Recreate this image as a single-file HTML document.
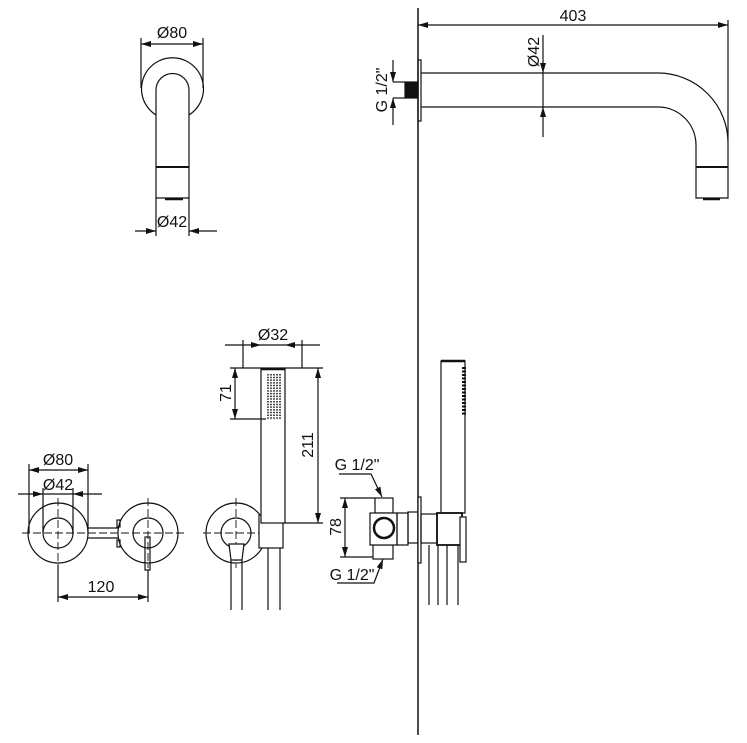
<!DOCTYPE html>
<html><head><style>
html,body{margin:0;padding:0;background:#fff;}
svg{display:block}
text{font-family:"Liberation Sans Narrow","Liberation Sans",sans-serif;font-size:16px;fill:#111;}
</style></head><body>
<svg width="747" height="743" viewBox="0 0 747 743" xmlns="http://www.w3.org/2000/svg">
<defs>
<marker id="a" markerWidth="10" markerHeight="6" refX="10" refY="3" orient="auto" markerUnits="userSpaceOnUse"><path d="M0,0 L10,3 L0,6 z" fill="#111"/></marker>
</defs>
<g stroke="#111" stroke-width="1.2" fill="none">
<line x1="141" y1="38" x2="141" y2="88"/><line x1="203" y1="38" x2="203" y2="88"/>
<line x1="172" y1="44" x2="141" y2="44" marker-end="url(#a)"/><line x1="172" y1="44" x2="203" y2="44" marker-end="url(#a)"/>
<path d="M156,115 A31,31 0 1 1 189,115"/>
<path d="M156,198 L156,90 A16.5,16.5 0 0 1 189,90 L189,198 Z"/>
<line x1="156" y1="167" x2="189" y2="167" stroke-width="2"/>
<line x1="165" y1="199" x2="183" y2="199" stroke-width="2.5"/>
<line x1="156" y1="198" x2="156" y2="236"/><line x1="189" y1="198" x2="189" y2="236"/>
<line x1="135" y1="231" x2="156" y2="231" marker-end="url(#a)"/><line x1="217" y1="231" x2="189" y2="231" marker-end="url(#a)"/>
<line x1="418" y1="8" x2="418" y2="735" stroke-width="1.5"/>
<rect x="418" y="60" width="3" height="61"/>
<rect x="405" y="82" width="13" height="16" fill="#111"/>
<path d="M421,73 L658,73 A70,70 0 0 1 728,143 L728,198 L696,198 L696,145 A38,38 0 0 0 658,107 L421,107"/>
<line x1="696" y1="167" x2="728" y2="167" stroke-width="2"/>
<line x1="703" y1="199" x2="720" y2="199" stroke-width="2.5"/>
<line x1="728" y1="20" x2="728" y2="140"/>
<line x1="573" y1="25" x2="418" y2="25" marker-end="url(#a)"/><line x1="573" y1="25" x2="728" y2="25" marker-end="url(#a)"/>
<line x1="543" y1="35" x2="543" y2="73" marker-end="url(#a)"/><line x1="543" y1="137" x2="543" y2="107" marker-end="url(#a)"/>
<line x1="543" y1="73" x2="543" y2="107"/>
<line x1="393" y1="60" x2="393" y2="82" marker-end="url(#a)"/><line x1="393" y1="125" x2="393" y2="98" marker-end="url(#a)"/>
<line x1="393" y1="82" x2="405" y2="82"/><line x1="393" y1="98" x2="405" y2="98"/>
<line x1="29" y1="464" x2="29" y2="533"/><line x1="88" y1="464" x2="88" y2="533"/>
<line x1="43" y1="488" x2="43" y2="533"/><line x1="73" y1="488" x2="73" y2="533"/>
<line x1="58" y1="470" x2="29" y2="470" marker-end="url(#a)"/><line x1="58" y1="470" x2="88" y2="470" marker-end="url(#a)"/>
<line x1="18" y1="494" x2="43" y2="494" marker-end="url(#a)"/><line x1="102" y1="494" x2="73" y2="494" marker-end="url(#a)"/>
<line x1="43" y1="494" x2="73" y2="494"/>
<circle cx="58" cy="533" r="30"/><circle cx="58" cy="533" r="15"/>
<line x1="88" y1="528" x2="118" y2="528"/><line x1="88" y1="538" x2="118" y2="538"/>
<circle cx="148" cy="533" r="30"/><circle cx="148" cy="533" r="15"/>
<rect x="117" y="520" width="3" height="7"/><rect x="117" y="540" width="3" height="7"/>
<rect x="145" y="537" width="5" height="33"/>
<g stroke-dasharray="8,3" stroke-width="0.9"><line x1="22" y1="533" x2="184" y2="533"/><line x1="58" y1="498" x2="58" y2="568"/><line x1="148" y1="498" x2="148" y2="568"/></g>
<line x1="58" y1="565" x2="58" y2="602"/><line x1="148" y1="570" x2="148" y2="602"/>
<line x1="101" y1="597" x2="58" y2="597" marker-end="url(#a)"/><line x1="101" y1="597" x2="148" y2="597" marker-end="url(#a)"/>
<circle cx="236" cy="533" r="30"/><circle cx="236" cy="533" r="15"/>
<g stroke-dasharray="8,3" stroke-width="0.9"><line x1="203" y1="533" x2="272" y2="533"/><line x1="236" y1="498" x2="236" y2="568"/></g>
<rect x="259" y="515" width="24" height="33" fill="#fff"/>
<rect x="261" y="368" width="24" height="155" fill="#fff"/>
<line x1="261" y1="369" x2="285" y2="369" stroke-width="2.5"/>
<path d="M229,544 L244,544 L242,560 L231,560 Z" fill="#fff"/>
<line x1="231" y1="560" x2="231" y2="610"/><line x1="242" y1="560" x2="242" y2="610"/>
<line x1="268" y1="548" x2="268" y2="610"/><line x1="280" y1="548" x2="280" y2="610"/>
<line x1="243" y1="340" x2="243" y2="368"/><line x1="302" y1="340" x2="302" y2="368"/>
<line x1="225" y1="345" x2="261" y2="345" marker-end="url(#a)"/><line x1="320" y1="345" x2="285" y2="345" marker-end="url(#a)"/>
<line x1="261" y1="345" x2="285" y2="345"/>
<line x1="230" y1="368" x2="261" y2="368"/><line x1="230" y1="419" x2="266" y2="419"/>
<line x1="235" y1="393" x2="235" y2="368" marker-end="url(#a)"/><line x1="235" y1="393" x2="235" y2="419" marker-end="url(#a)"/>
<line x1="285" y1="368" x2="323" y2="368"/><line x1="285" y1="523" x2="323" y2="523"/>
<line x1="318" y1="445" x2="318" y2="368" marker-end="url(#a)"/><line x1="318" y1="445" x2="318" y2="523" marker-end="url(#a)"/>
<rect x="375" y="498" width="18" height="15"/>
<rect x="373" y="545" width="20" height="14"/>
<rect x="370" y="513" width="27" height="32" fill="#fff"/>
<circle cx="384" cy="528" r="10" stroke-width="2.5"/>
<rect x="397" y="513" width="11" height="32"/>
<rect x="408" y="512" width="10" height="31"/>
<rect x="418" y="497" width="3" height="66" fill="#fff"/>
<rect x="421" y="514" width="16" height="29"/>
<rect x="437" y="513" width="25" height="32" stroke-width="1.8"/>
<rect x="460" y="517" width="6" height="45" fill="#fff"/>
<line x1="429" y1="545" x2="429" y2="605"/><line x1="438" y1="545" x2="438" y2="605"/>
<line x1="447" y1="545" x2="447" y2="605"/><line x1="458" y1="545" x2="458" y2="605"/>
<rect x="441" y="361" width="24" height="152"/>
<line x1="441" y1="361" x2="465" y2="361" stroke-width="2.5"/>
<line x1="464" y1="367" x2="464" y2="415" stroke-width="4" stroke-dasharray="2,1.5"/>
<line x1="340" y1="498" x2="375" y2="498"/><line x1="340" y1="557" x2="373" y2="557"/>
<line x1="345" y1="527" x2="345" y2="498" marker-end="url(#a)"/><line x1="345" y1="527" x2="345" y2="557" marker-end="url(#a)"/>
<polyline points="339,474 371,474 382,497" marker-end="url(#a)"/>
<polyline points="337,583 374,583 383,559" marker-end="url(#a)"/>
</g>
<g stroke="#111" stroke-width="1.5" stroke-dasharray="1.5,1.2">
<line x1="268" y1="374" x2="268" y2="420"/><line x1="271" y1="374" x2="271" y2="420"/><line x1="274" y1="374" x2="274" y2="420"/><line x1="277" y1="374" x2="277" y2="420"/><line x1="280" y1="374" x2="280" y2="420"/>
</g>
<text x="172" y="38" text-anchor="middle">Ø80</text>
<text x="172" y="227" text-anchor="middle">Ø42</text>
<text x="573" y="21" text-anchor="middle">403</text>
<text transform="translate(539,52) rotate(-90)" text-anchor="middle">Ø42</text>
<text transform="translate(387,90) rotate(-90)" text-anchor="middle">G 1/2"</text>
<text x="58" y="465" text-anchor="middle">Ø80</text>
<text x="58" y="490" text-anchor="middle">Ø42</text>
<text x="101" y="592" text-anchor="middle">120</text>
<text x="273" y="340" text-anchor="middle">Ø32</text>
<text transform="translate(231,393) rotate(-90)" text-anchor="middle">71</text>
<text transform="translate(313,445) rotate(-90)" text-anchor="middle">211</text>
<text transform="translate(341,527) rotate(-90)" text-anchor="middle">78</text>
<text x="357" y="470" text-anchor="middle">G 1/2"</text>
<text x="352" y="580" text-anchor="middle">G 1/2"</text>
</svg>
</body></html>
